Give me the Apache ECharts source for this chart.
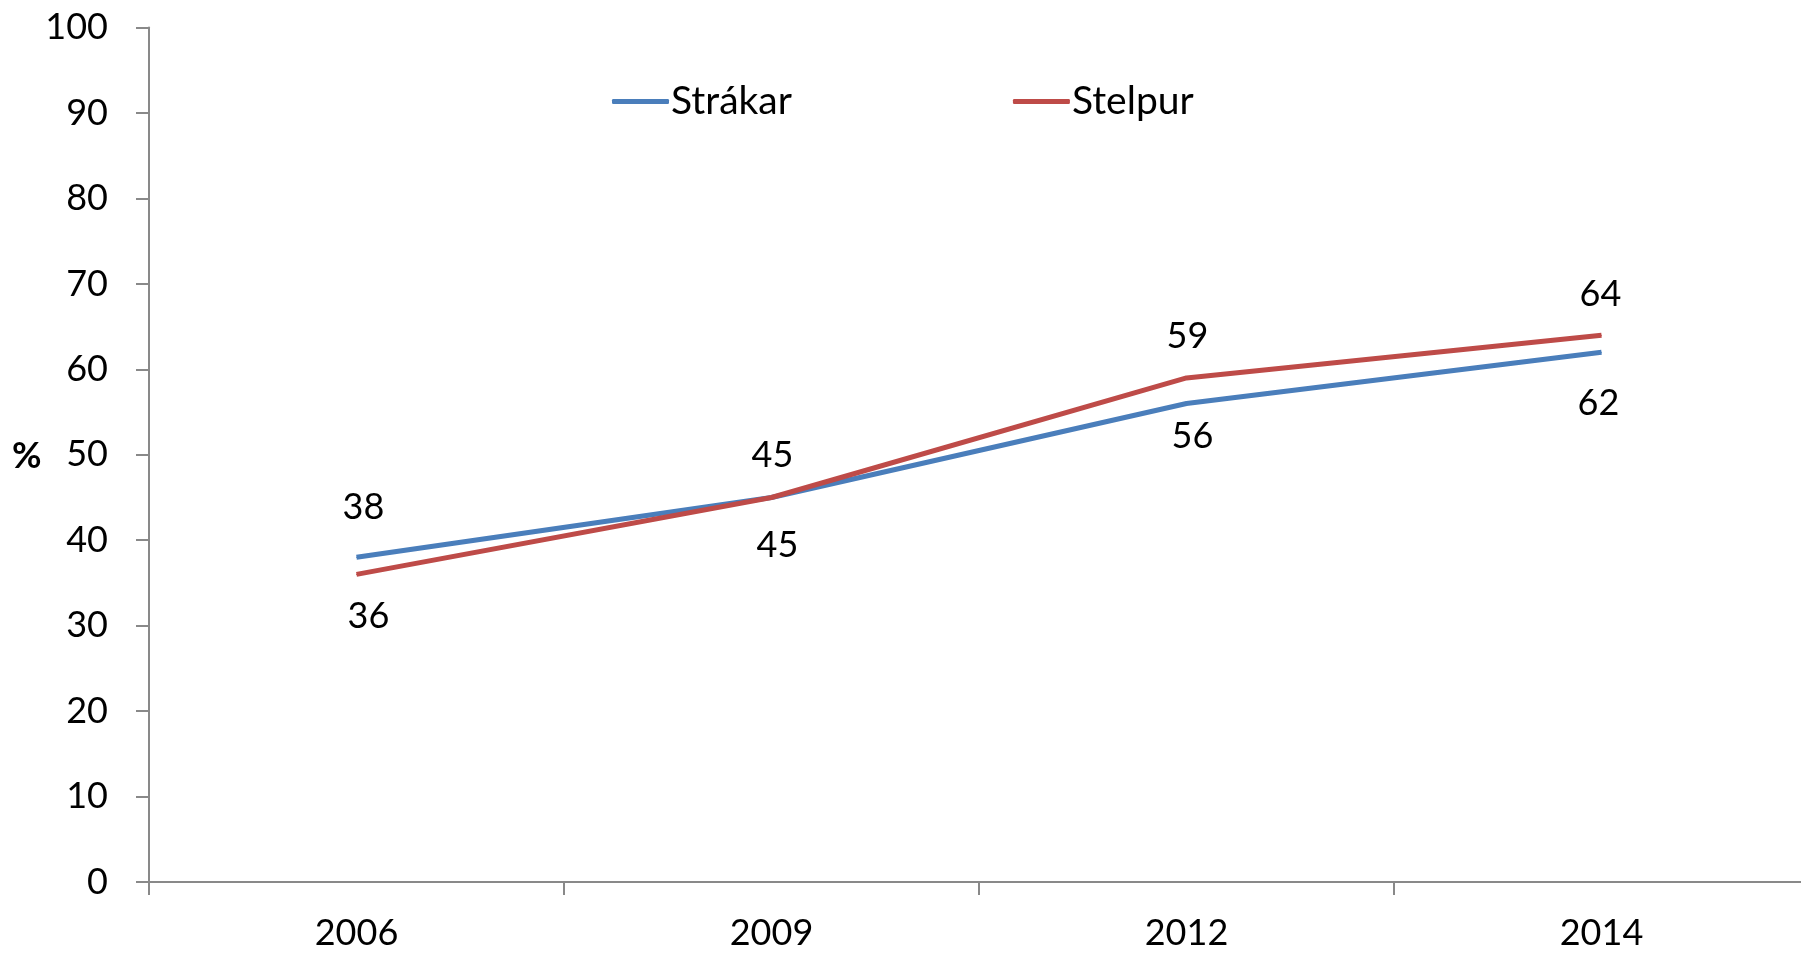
<!DOCTYPE html>
<html>
<head>
<meta charset="utf-8">
<script src="https://cdn.jsdelivr.net/npm/echarts@6/dist/echarts.min.js"></script>
<style>html,body{margin:0;padding:0;background:#fff}#c{width:1801px;height:954px}</style>
</head>
<body>
<div id="c"></div>
<script>
const years = ['2006', '2009', '2012', '2014'];
const strakar = [38, 45, 56, 62];
const stelpur = [36, 45, 59, 64];
const yTicks = [0, 10, 20, 30, 40, 50, 60, 70, 80, 90, 100];

// label placement (style config, kept separate from data)
const strakarLabelPos = ['top', 'bottom', 'bottom', 'bottom'];
const strakarLabelDist = [31, 29, 14, 33];
const strakarLabelDx = [7, 6, 6, -3];
const stelpurLabelPos = ['bottom', 'top', 'top', 'top'];
const stelpurLabelDist = [23, 24, 23, 22];
const stelpurLabelDx = [12, 1, 1, -1];

const FONT = 'Lato';
const AXIS = '#898989';

function mk(vals, pos, dist, dx) {
  return vals.map((v, i) => ({
    value: v,
    label: { position: pos[i], distance: dist[i], offset: [dx[i], 0] }
  }));
}

const chart = echarts.init(document.getElementById('c'), null, { renderer: 'canvas' });
chart.setOption({
  animation: false,
  backgroundColor: '#fff',
  textStyle: { fontFamily: FONT },
  grid: { left: 149, width: 1660, top: 27.6, bottom: 72, containLabel: false, outerBoundsMode: 'none' },
  legend: {
    left: 607, top: 77,
    itemGap: 221,
    itemWidth: 57, itemHeight: 5,
    icon: 'roundRect',
    textStyle: { fontSize: 39, fontFamily: FONT, color: '#000', padding: [0, 0, 0, -3] },
    data: ['Strákar', 'Stelpur']
  },
  xAxis: {
    type: 'category',
    data: years,
    boundaryGap: true,
    axisLine: { lineStyle: { color: AXIS, width: 2 } },
    axisTick: { show: true, length: 13, lineStyle: { color: AXIS, width: 2 } },
    axisLabel: { fontSize: 36, color: '#000', margin: 33, fontFamily: FONT },
    splitLine: { show: false }
  },
  yAxis: {
    type: 'value',
    min: yTicks[0], max: yTicks[yTicks.length - 1], interval: 10,
    axisLine: { show: true, lineStyle: { color: AXIS, width: 2 } },
    axisTick: { show: true, length: 13, lineStyle: { color: AXIS, width: 2 } },
    axisLabel: { fontSize: 36, color: '#000', margin: 41, fontFamily: FONT },
    splitLine: { show: false }
  },
  graphic: [{
    type: 'text', left: 12, top: 438,
    style: { text: '%', fontSize: 36, fontWeight: 'bold', fill: '#000', fontFamily: FONT }
  }],
  series: [
    {
      name: 'Strákar', type: 'line',
      data: mk(strakar, strakarLabelPos, strakarLabelDist, strakarLabelDx),
      symbol: 'circle', symbolSize: 1,
      lineStyle: { color: '#4A7EBB', width: 5 },
      itemStyle: { color: '#4A7EBB' },
      label: { show: true, fontSize: 36, lineHeight: 36, color: '#000', fontFamily: FONT },
      z: 3
    },
    {
      name: 'Stelpur', type: 'line',
      data: mk(stelpur, stelpurLabelPos, stelpurLabelDist, stelpurLabelDx),
      symbol: 'circle', symbolSize: 1,
      lineStyle: { color: '#BE4B48', width: 5 },
      itemStyle: { color: '#BE4B48' },
      label: { show: true, fontSize: 36, lineHeight: 36, color: '#000', fontFamily: FONT },
      z: 4
    }
  ]
});
</script>
</body>
</html>
